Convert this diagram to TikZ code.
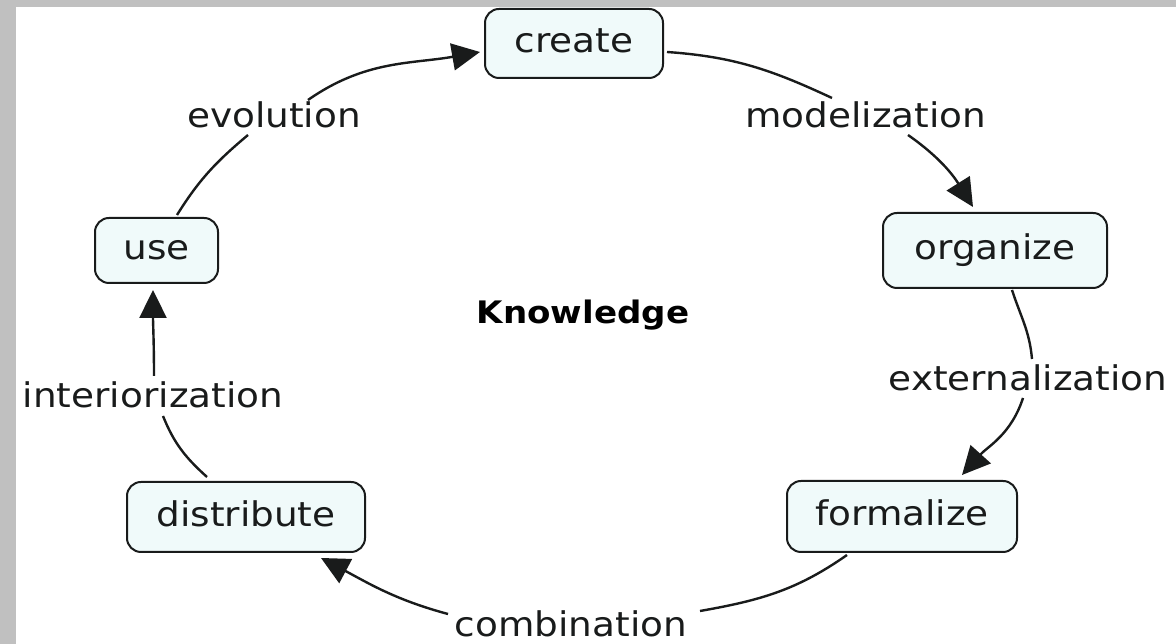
\documentclass[tikz,border=0pt]{standalone}
\usepackage{fontspec}
\setmainfont{DejaVu Sans}[FakeStretch=1.1]
\usetikzlibrary{arrows.meta,calc}
\definecolor{boxfill}{RGB}{240,250,250}
\definecolor{framegray}{RGB}{192,192,192}
\definecolor{ink}{RGB}{25,27,27}
\begin{document}
\begin{tikzpicture}[x=1pt,y=1pt,
  txt/.style={font=\fontsize{34}{40}\selectfont, text=ink, text height=18.6pt, text depth=0pt},
  concept/.style={txt, draw=ink, line width=2pt, rounded corners=14pt, fill=boxfill, inner sep=0pt},
  linklabel/.style={txt, inner sep=0pt},
  link/.style={draw=ink, line width=2.4pt},
  arrowlink/.style={link, -{Triangle[length=28pt,width=27pt]}}]
\fill[framegray] (0,0) rectangle (1176,644);
\fill[white] (16,0) rectangle (1176,637);
\useasboundingbox (0,0) rectangle (1176,644);

% concepts
\node[concept, minimum width=178pt, minimum height=69pt] (create) at (574,600.5) {create};
\node[concept, minimum width=224pt, minimum height=75pt] (organize) at (995,393.5) {organize};
\node[concept, minimum width=230pt, minimum height=71pt] (formalize) at (902,127.5) {formalize};
\node[concept, minimum width=238pt, minimum height=70pt] (distribute) at (246,127) {distribute};
\node[concept, minimum width=123pt, minimum height=65pt] (use) at (156.5,393.5) {use};
\node[txt, font=\fontsize{31}{36}\selectfont\bfseries, text=black] (knowledge) at (583,330) {Knowledge};

% link labels
\node[linklabel] (evolution) at (274,526) {evolution};
\node[linklabel] (modelization) at (866,526) {modelization};
\node[linklabel] (externalization) at (1028,263) {externalization};
\node[linklabel] (combination) at (571,17) {combination};
\node[linklabel] (interiorization) at (153,246) {interiorization};

% connectors
\draw[link] ($(use)+(20.5,35.5)$) to[out=58,in=220] ($(evolution)+(-26,-17)$);
\draw[arrowlink] ($(evolution)+(34,18)$) to[out=35,in=190] ($(create)+(-94,-8.5)$);

\draw[link] ($(create)+(93,-8.5)$) to[out=-4,in=155] ($(modelization)+(-34,20)$);
\draw[arrowlink] ($(modelization)+(42,-17)$) to[out=-35,in=122] ($(organize)+(-22,43.5)$);

\draw[link] ($(organize)+(17,-39.5)$) to[out=-72,in=95] ($(externalization)+(4,22)$);
\draw[arrowlink] ($(externalization)+(-5,-17)$) to[out=-108,in=48] ($(formalize)+(60,41.5)$);

\draw[link] ($(formalize)+(-55,-38.5)$) to[out=-145,in=10] ($(combination)+(129,16)$);
\draw[arrowlink] ($(combination)+(-123,13)$) to[out=165,in=-28] ($(distribute)+(75,-41)$);

\draw[link] ($(distribute)+(-39,40)$) to[out=138,in=-68] ($(interiorization)+(10,-18)$);
\draw[arrowlink] ($(interiorization)+(1,22)$) to[out=90,in=-90] ($(use)+(-3.5,-39.5)$);
\end{tikzpicture}
\end{document}
